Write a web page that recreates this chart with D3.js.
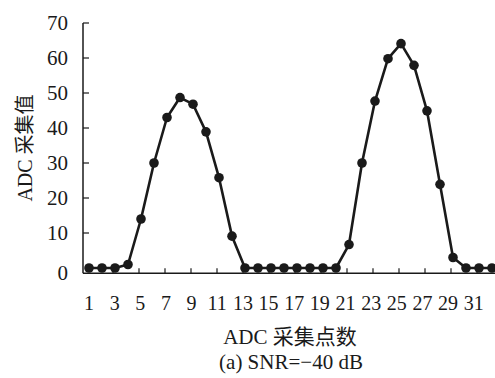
<!DOCTYPE html>
<html>
<head>
<meta charset="utf-8">
<script src="https://cdn.jsdelivr.net/npm/d3@7"></script>
<style>
  html, body { margin: 0; padding: 0; background: #fff; }
  svg text { font-family: "Liberation Serif", "Noto Sans CJK SC", serif; fill: #1a1a1a; }
</style>
</head>
<body>
<svg id="chart" width="495" height="378"></svg>
<script>
// sample index 1..32 and ADC values
const samples = d3.range(1, 33);
const adcValues = [0, 0, 0, 1, 14, 30, 43, 48.7, 46.8, 38.9, 25.8, 9.1, 0, 0, 0, 0,
                   0, 0, 0, 0, 6.7, 30, 47.7, 59.8, 64.1, 57.9, 44.9, 23.9, 3, 0, 0, 0];
const xTicks = d3.range(1, 32, 2);
const yTicks = [10, 20, 30, 40, 50, 60, 70];
const yMin = -1.5;

const svg = d3.select('#chart');
const ink = '#1a1a1a';

const x = d3.scaleLinear().domain([1, 32]).range([89, 492]);
const y = d3.scaleLinear().domain([0, 70]).range([268, 23]);
const axisY = y(yMin);

// x axis: line to right edge, inward ticks
const gx = svg.append('g').attr('transform', `translate(0,${axisY})`);
gx.append('line').attr('x1', 83).attr('x2', 495).attr('stroke', ink).attr('stroke-width', 1.5);
gx.selectAll('line.tick').data(xTicks.slice(1)).join('line')
  .attr('class', 'tick')
  .attr('x1', d => x(d) - 2).attr('x2', d => x(d) - 2)
  .attr('y1', 0).attr('y2', -5)
  .attr('stroke', ink).attr('stroke-width', 1.2);
gx.selectAll('text').data(xTicks).join('text')
  .attr('x', (d, i) => x(d) - i * 0.35)
  .attr('y', 37)
  .attr('text-anchor', 'middle')
  .style('font-size', '20px')
  .text(d => d);

// y axis
const gy = svg.append('g').attr('transform', 'translate(83,0)');
gy.append('line').attr('y1', y(70)).attr('y2', axisY).attr('stroke', ink).attr('stroke-width', 1.5);
gy.selectAll('line.tick').data(yTicks).join('line')
  .attr('class', 'tick')
  .attr('x1', 0).attr('x2', 6)
  .attr('y1', d => y(d)).attr('y2', d => y(d))
  .attr('stroke', ink).attr('stroke-width', 1.2);
gy.selectAll('text').data([0, ...yTicks]).join('text')
  .attr('x', -15)
  .attr('y', d => d === 0 ? axisY : y(d))
  .attr('dy', '0.33em')
  .attr('text-anchor', 'end')
  .style('font-size', '21px')
  .text(d => d);

// series
const pts = samples.map((s, i) => [s, adcValues[i]]);
svg.append('path')
  .datum(pts)
  .attr('fill', 'none')
  .attr('stroke', ink)
  .attr('stroke-width', 2.6)
  .attr('stroke-linejoin', 'round')
  .attr('d', d3.line().x(d => x(d[0])).y(d => y(d[1])));
svg.selectAll('circle').data(pts).join('circle')
  .attr('cx', d => x(d[0])).attr('cy', d => y(d[1]))
  .attr('r', 4.8)
  .attr('fill', ink);

// labels
svg.append('text')
  .attr('transform', 'translate(25,148) rotate(-90)')
  .attr('text-anchor', 'middle')
  .attr('dominant-baseline', 'central')
  .style('font-size', '20px')
  .text('ADC 采集值');
svg.append('text')
  .attr('x', 290).attr('y', 337)
  .attr('text-anchor', 'middle')
  .attr('dominant-baseline', 'central')
  .style('font-size', '21px')
  .text('ADC 采集点数');
svg.append('text')
  .attr('x', 291).attr('y', 362)
  .attr('text-anchor', 'middle')
  .attr('dominant-baseline', 'central')
  .style('font-size', '21px')
  .text('(a) SNR=−40 dB');
</script>
</body>
</html>
